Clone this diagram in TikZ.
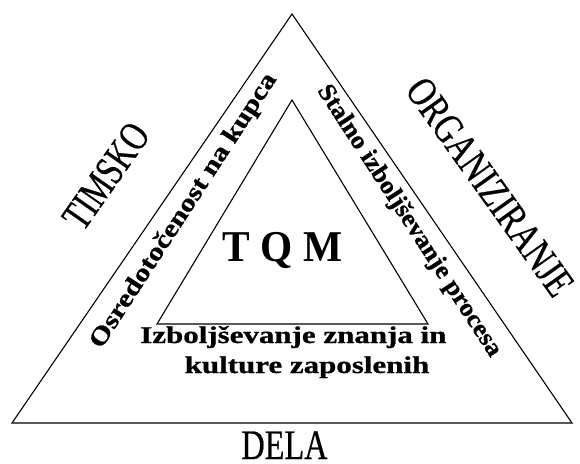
\documentclass[tikz,border=0pt]{standalone}
\usepackage{fontspec}
\setmainfont{Liberation Serif}
\newfontfamily\thickserif[FakeBold=0.6]{Liberation Serif}
\newfontfamily\heavyserif[FakeBold=0.8]{Liberation Serif Bold}
\begin{document}
\begin{tikzpicture}[
			x=1pt, y=1pt,
			tri/.style={draw, line width=1.1pt, line join=miter},
			bigword/.style={inner sep=0pt, font=\fontsize{42}{42}\selectfont\thickserif},
			sideword/.style={inner sep=0pt, font=\fontsize{25}{25}\selectfont\heavyserif},
			basetext/.style={inner sep=0pt, font=\fontsize{24}{30}\selectfont\heavyserif, xscale=1.29},
		]
		\useasboundingbox (0,0) rectangle (580,463);

		\coordinate (otop) at (292,449);
		\coordinate (oleft) at (12,40);
		\coordinate (oright) at (572,40);
		\draw[tri] (otop) -- (oleft) -- (oright) -- cycle;

		\coordinate (itop) at (292,363);
		\coordinate (ileft) at (157,139);
		\coordinate (iright) at (428,139);
		\draw[tri] (itop) -- (ileft) -- (iright) -- cycle;

		\node[bigword, rotate=55, xscale=0.74] (timsko) at (106,287) {TIMSKO};
		\node[bigword, rotate=-54.5, xscale=0.77] (organ) at (490,276) {ORGANIZIRANJE};
		\node[bigword, xscale=0.77, anchor=base] (dela) at (284.5,4) {DELA};

		\node[sideword, rotate=57, xscale=1.2] (kupca) at (184,252) {Osredotočenost na kupca};
		\node[sideword, rotate=-57, xscale=1.06] (proces) at (409,242) {Stalno izboljševanje procesa};

		\node[inner sep=0pt, font=\fontsize{44}{44}\selectfont\bfseries, xscale=0.94, anchor=base] (tqm) at (282.5,201) {T Q M};

		\node[basetext, anchor=base west] (znanje) at (140,120) {Izboljševanje znanja in};
		\node[basetext, anchor=base] (kultura) at (307,90) {kulture zaposlenih};
	\end{tikzpicture}
\end{document}
